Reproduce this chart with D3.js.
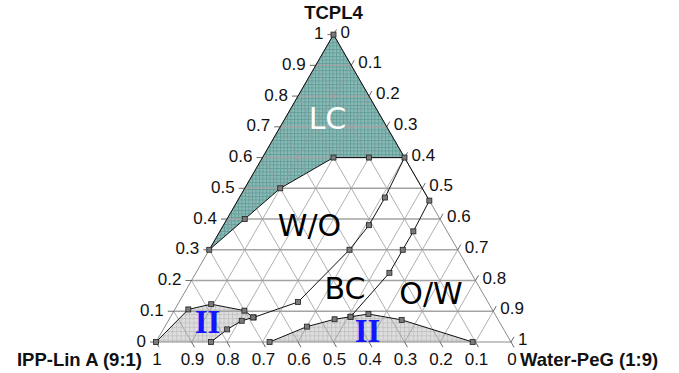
<!DOCTYPE html>
<html>
<head>
<meta charset="utf-8">
<script src="https://cdn.jsdelivr.net/npm/d3@7"></script>
<style>
  html, body { margin: 0; padding: 0; background: #fff; }
  svg { display: block; }
</style>
</head>
<body>
<svg id="chart" width="679" height="373"></svg>
<script>
// Ternary phase diagram: TCPL4 (top), IPP-Lin A (9:1) (bottom-left), Water-PeG (1:9) (bottom-right).
// Every composition is given as [TCPL4 fraction, Water-PeG fraction]; IPP fraction is the rest.

const axisTitles = ["TCPL4", "IPP-Lin A (9:1)", "Water-PeG (1:9)"];
const tickValues = [0, 0.1, 0.2, 0.3, 0.4, 0.5, 0.6, 0.7, 0.8, 0.9, 1];
const tickLabels = ["0", "0.1", "0.2", "0.3", "0.4", "0.5", "0.6", "0.7", "0.8", "0.9", "1"];

// Liquid crystalline region (top)
const lcRegion = [[1, 0], [0.3, 0], [0.4, 0.05], [0.5, 0.1], [0.6, 0.2], [0.6, 0.3], [0.6, 0.4]];
const lcPoints = [[1, 0], [0.3, 0], [0.4, 0.05], [0.5, 0.1], [0.6, 0.2], [0.6, 0.3], [0.6, 0.4]];

// Lower limit of the W/O microemulsion
const woBoundary = [[0.08, 0.235], [0.13, 0.335], [0.30, 0.395], [0.38, 0.41], [0.47, 0.41], [0.6, 0.4]];

// Limit of the O/W microemulsion
const owBoundary = [[0.6, 0.4], [0.46, 0.54], [0.36, 0.545], [0.30, 0.545], [0.225, 0.545], [0.082, 0.507]];

// Two-phase regions (II)
const twoPhaseLeft = [[0, 0], [0.106, 0.038], [0.123, 0.094], [0.102, 0.198], [0.08, 0.234],
                      [0.069, 0.207], [0.041, 0.18], [0, 0.155]];
const twoPhaseRight = [[0, 0.32], [0.05, 0.40], [0.074, 0.466], [0.082, 0.507], [0.091, 0.553],
                       [0.072, 0.656], [0, 0.892]];

const regionNames = ["LC", "W/O", "BC", "O/W", "II"];

// ---- scales: ternary -> cartesian ----
const x = d3.scaleLinear().domain([0, 1]).range([156, 511]);   // W + T/2
const y = d3.scaleLinear().domain([0, 1]).range([342, 34.6]);  // T
const px = d => x(d[1] + d[0] / 2);
const py = d => y(d[0]);

const svg = d3.select("#chart");
const defs = svg.append("defs");

function hatch(id, bg, line, step) {
  const p = defs.append("pattern").attr("id", id).attr("patternUnits", "userSpaceOnUse")
    .attr("width", step).attr("height", step);
  p.append("rect").attr("width", step).attr("height", step).attr("fill", bg);
  p.append("path").attr("d", `M0,0.5H${step}M0.5,0V${step}`)
    .attr("stroke", line).attr("stroke-width", 0.7).attr("fill", "none");
}
hatch("lcFill", "#88bab6", "#5a9692", 3.5);
hatch("twoFill", "#dedede", "#bdbdbd", 4.3);

const line = d3.line().x(px).y(py);
const closed = d3.line().x(px).y(py).curve(d3.curveLinearClosed);

// region fills
svg.append("path").attr("d", closed(lcRegion)).attr("fill", "url(#lcFill)");
svg.append("path").attr("d", closed(twoPhaseLeft)).attr("fill", "url(#twoFill)");
svg.append("path").attr("d", closed(twoPhaseRight)).attr("fill", "url(#twoFill)");

// triangular grid
const grid = svg.append("g").attr("fill", "none");
tickValues.slice(1, -1).forEach(v => {
  grid.append("path").attr("d", line([[v, 0], [v, 1 - v]]))
    .attr("stroke", "#a3a3a3").attr("stroke-width", 1.4);
  grid.append("path").attr("d", line([[1 - v, v], [0, v]]))
    .attr("stroke", "#9c9c9c").attr("stroke-width", 0.8);
  grid.append("path").attr("d", line([[0, 1 - v], [1 - v, 0]]))
    .attr("stroke", "#9c9c9c").attr("stroke-width", 0.8);
});

// triangle outline
svg.append("path").attr("d", closed([[1, 0], [0, 0], [0, 1]]))
  .attr("fill", "none").attr("stroke", "#8a8a8a").attr("stroke-width", 1);

// ticks
const ticks = svg.append("g").attr("stroke", "#444").attr("stroke-width", 0.8);
tickValues.forEach(v => {
  const L = [v, 0];            // left edge, TCPL4 = v
  ticks.append("line").attr("x1", px(L)).attr("y1", py(L)).attr("x2", px(L) - 6).attr("y2", py(L));
  const R = [1 - v, v];        // right edge, Water-PeG = v
  ticks.append("line").attr("x1", px(R)).attr("y1", py(R)).attr("x2", px(R) + 3).attr("y2", py(R) - 5.2);
  const B = [0, 1 - v];        // bottom edge, IPP = v
  ticks.append("line").attr("x1", px(B)).attr("y1", py(B)).attr("x2", px(B) + 3).attr("y2", py(B) + 5.2);
});

// tick labels
const lab = svg.append("g").attr("font-family", "Liberation Sans, Arial, sans-serif")
  .attr("font-size", 17).attr("fill", "#111");
tickValues.forEach((v, i) => {
  const L = [v, 0];
  lab.append("text").attr("x", px(L) - 10).attr("y", py(L) + 4.5)
    .attr("text-anchor", "end").text(tickLabels[i]);
  const R = [1 - v, v];
  lab.append("text").attr("x", px(R) + 7).attr("y", py(R) + 3)
    .attr("text-anchor", "start").text(tickLabels[i]);
  const B = [0, 1 - v];
  lab.append("text").attr("x", px(B) + 1).attr("y", 365)
    .attr("text-anchor", "middle").text(tickLabels[i]);
});

// axis titles
const tt = svg.append("g").attr("font-family", "Liberation Sans, Arial, sans-serif")
  .attr("font-weight", "bold").attr("font-size", 18.5).attr("fill", "#111");
tt.append("text").attr("x", px([1, 0])).attr("y", 19).attr("text-anchor", "middle").text(axisTitles[0]);
tt.append("text").attr("x", 142).attr("y", 366).attr("text-anchor", "end").text(axisTitles[1]);
tt.append("text").attr("x", 520).attr("y", 366).attr("text-anchor", "start").text(axisTitles[2]);

// boundaries
const bnd = svg.append("g").attr("fill", "none").attr("stroke", "#111").attr("stroke-width", 1);
bnd.append("path").attr("d", line([[0.3, 0], [1, 0], [0.6, 0.4]]));
bnd.append("path").attr("d", line(lcRegion.slice(1)));
bnd.append("path").attr("d", line(woBoundary));
bnd.append("path").attr("d", line(owBoundary));
bnd.append("path").attr("d", line(twoPhaseLeft));
bnd.append("path").attr("d", line(twoPhaseRight));

// measured points
const pts = [].concat(lcPoints, woBoundary.slice(0, -1), owBoundary.slice(1), twoPhaseLeft, twoPhaseRight);
svg.append("g").selectAll("rect").data(pts).join("rect")
  .attr("x", d => px(d) - 2.5).attr("y", d => py(d) - 2.5)
  .attr("width", 5).attr("height", 5)
  .attr("fill", "#7a7a7a").attr("stroke", "#222").attr("stroke-width", 0.8);

// region names
const rn = svg.append("g").attr("font-family", "DejaVu Sans, Verdana, sans-serif").attr("font-size", 30);
rn.append("text").attr("x", 327.5).attr("y", 129).attr("text-anchor", "middle").attr("fill", "#fff").text(regionNames[0]);
rn.append("text").attr("x", 309.5).attr("y", 236).attr("text-anchor", "middle").attr("fill", "#000").text(regionNames[1]);
rn.append("text").attr("x", 345).attr("y", 299).attr("text-anchor", "middle").attr("fill", "#000").text(regionNames[2]);
rn.append("text").attr("x", 431).attr("y", 304).attr("text-anchor", "middle").attr("fill", "#000").text(regionNames[3]);
const two = svg.append("g").attr("font-family", "Liberation Serif, Times New Roman, serif")
  .attr("font-size", 33).attr("font-weight", "bold").attr("fill", "#1414ff").attr("text-anchor", "middle");
two.append("text").attr("x", 207.5).attr("y", 333).text(regionNames[4]);
two.append("text").attr("x", 367.5).attr("y", 341.5).text(regionNames[4]);
</script>
</body>
</html>
